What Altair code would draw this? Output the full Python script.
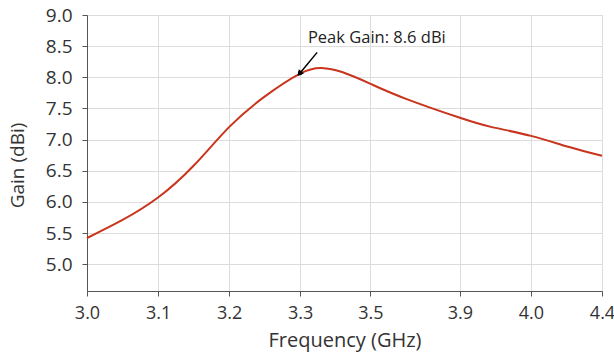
import altair as alt
import pandas as pd

# Curve (x in tick-position units; ticks are not evenly valued)
freq_pos = [0.0, 0.5, 1.0, 1.5, 2.0, 2.5, 3.0, 3.3, 3.6, 4.0, 4.5, 5.25, 5.7, 6.25, 6.76, 7.25]
gain = [5.42, 5.71, 6.07, 6.58, 7.20, 7.69, 8.06, 8.15, 8.08, 7.89, 7.65, 7.35, 7.20, 7.06, 6.89, 6.74]

# X tick positions and their labels
tick_pos = [0, 1, 2, 3, 3.99, 5.25, 6.25, 7.25]
tick_labels = ["3.0", "3.1", "3.2", "3.3", "3.5", "3.9", "4.0", "4.4"]
y_ticks = [5.0, 5.5, 6.0, 6.5, 7.0, 7.5, 8.0, 8.5, 9.0]

# Annotation
peak_x = [3.0]
peak_y = [8.07]
label_x = [3.11]
label_y = [8.63]
label_text = ["Peak Gain: 8.6 dBi"]
arrow_tail_x = [3.24]
arrow_tail_y = [8.4]

FONT = "Open Sans"

label_expr = "{" + ",".join(f"'{p}':'{l}'" for p, l in zip(tick_pos, tick_labels)) + "}[datum.value]"

x_scale = alt.Scale(domain=[0, 7.25], nice=False, zero=False)
y_scale = alt.Scale(domain=[4.57, 9.0], nice=False, zero=False)

df = pd.DataFrame({"x": freq_pos, "y": gain})

line = alt.Chart(df).mark_line(color="#c8341c", strokeWidth=2, interpolate="natural").encode(
    x=alt.X("x:Q", scale=x_scale,
            axis=alt.Axis(title="Frequency (GHz)", values=tick_pos, labelExpr=label_expr,
                          grid=True, gridColor="#dcdcdc", domainColor="#555", tickColor="#555",
                          tickSize=5, labelFontSize=18, titleFontSize=20, labelFont=FONT,
                          titleFont=FONT, titleFontWeight="normal", labelColor="#333",
                          titleColor="#333", labelPadding=8, titlePadding=8, labelFlush=False,
                          labelOverlap=False)),
    y=alt.Y("y:Q", scale=y_scale,
            axis=alt.Axis(title="Gain (dBi)", values=y_ticks, tickCount=9,
                          format=".1f", grid=True, gridColor="#dcdcdc", domainColor="#555",
                          tickColor="#555", tickSize=5, labelFontSize=19, titleFontSize=19,
                          labelFont=FONT, titleFont=FONT, titleFontWeight="normal",
                          labelColor="#333", titleColor="#333", labelPadding=10, titlePadding=18,
                          titleY=150, labelOverlap=False)),
)

ann_df = pd.DataFrame({"x": peak_x, "y": peak_y, "x2": arrow_tail_x, "y2": arrow_tail_y})

arrow = alt.Chart(ann_df).mark_rule(color="black", strokeWidth=1.5).encode(
    x=alt.X("x:Q", scale=x_scale), y=alt.Y("y:Q", scale=y_scale), x2="x2:Q", y2="y2:Q"
)
head = alt.Chart(ann_df).mark_point(shape="triangle", filled=True, color="black", size=45, angle=220, opacity=1).encode(
    x=alt.X("x:Q", scale=x_scale), y=alt.Y("y:Q", scale=y_scale)
)
dot = alt.Chart(ann_df).mark_circle(color="black", size=20, opacity=1).encode(
    x=alt.X("x:Q", scale=x_scale), y=alt.Y("y:Q", scale=y_scale)
)

txt_df = pd.DataFrame({"x": label_x, "y": label_y, "t": label_text})
text = alt.Chart(txt_df).mark_text(align="left", baseline="middle", font=FONT, fontSize=16.5, color="#222").encode(
    x=alt.X("x:Q", scale=x_scale), y=alt.Y("y:Q", scale=y_scale), text="t:N"
)

chart = alt.layer(line, arrow, head, dot, text).properties(
    width=515, height=276,
    autosize=alt.AutoSizeParams(type="none"),
    padding={"left": 87, "top": 15, "right": 12, "bottom": 62},
).configure_view(stroke="#444", strokeWidth=1.2).configure(background="white")

chart.save("out.html", embed_options={"renderer": "svg", "actions": False})
